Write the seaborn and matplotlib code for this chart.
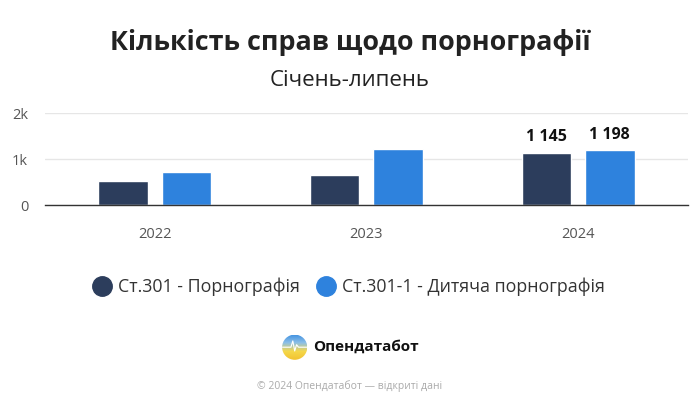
import numpy as np
import pandas as pd
import seaborn as sns
import matplotlib.pyplot as plt
from matplotlib.lines import Line2D
from matplotlib.patches import Circle

# Data
years = ["2022", "2023", "2024"]
art_301 = [520, 665, 1145]
art_301_1 = [725, 1225, 1198]
series_names = ["Ст.301 - Порнографія", "Ст.301-1 - Дитяча порнографія"]
colors = ["#2c3d5c", "#2e82dd"]

df = pd.DataFrame({
    "year": years * 2,
    "value": art_301 + art_301_1,
    "series": [series_names[0]] * 3 + [series_names[1]] * 3,
})

sns.set_theme(style="white")
plt.rcParams["font.family"] = ["Open Sans", "DejaVu Sans"]

fig = plt.figure(figsize=(7, 4.08), dpi=100)
ax = fig.add_axes([0.064, 0.4975, 0.919, 0.2245])

sns.barplot(data=df, x="year", y="value", hue="series", palette=colors,
            width=0.6, gap=0.22, saturation=1, ax=ax, legend=False)

ax.set_xlim(-0.52, 2.52)
ax.set_ylim(0, 2000)
ax.set_yticks([0, 1000, 2000])
ax.set_yticklabels(["0", "1k", "2k"])
ax.set_xlabel("")
ax.set_ylabel("")
ax.yaxis.grid(True, color="#e6e6e6", linewidth=1)
ax.set_axisbelow(True)
for s in ["top", "right", "left"]:
    ax.spines[s].set_visible(False)
ax.spines["bottom"].set_color("#333333")
ax.spines["bottom"].set_linewidth(1)
ax.tick_params(axis="both", length=0, labelsize=10.5, colors="#555555")
ax.tick_params(axis="x", pad=16)
ax.tick_params(axis="y", pad=12)

# value labels only on the last year
for cont in ax.containers:
    bar = cont.patches[-1]
    ax.text(bar.get_x() + bar.get_width() / 2, bar.get_height() + 160,
            f"{int(bar.get_height()):,}".replace(",", " "),
            ha="center", va="bottom", fontsize=11.5, fontweight="bold", color="#111111")

fig.text(0.5, 0.897, "Кількість справ щодо порнографії", ha="center", va="center",
         fontsize=19.4, fontweight="bold", color="#222222")
fig.text(0.5, 0.803, "Січень-липень", ha="center", va="center",
         fontsize=16, color="#222222")

handles = [Line2D([0], [0], marker="o", linestyle="", markersize=14,
                  markerfacecolor=c, markeredgecolor=c) for c in colors]
fig.legend(handles, series_names, loc="center", bbox_to_anchor=(0.5, 0.297),
           ncol=2, frameon=False, fontsize=12.8, handletextpad=0.5,
           handlelength=0.8, columnspacing=1.1, labelcolor="#333333")

# logo
lax = fig.add_axes([0.403, 0.118, 0.036, 0.062])
grad = np.linspace(0, 1, 100)[:, None] * np.ones((1, 100))
cmap = sns.blend_palette(["#3d8fe0", "#8cbfe8", "#f5d84a", "#f2c230"], as_cmap=True)
im = lax.imshow(grad, cmap=cmap, extent=[-1, 1, -1, 1], origin="upper")
clip = Circle((0, 0), 1, transform=lax.transData)
im.set_clip_path(clip)
lax.plot([-1, -0.3, -0.15, 0, 0.15, 0.3, 1], [0, 0, 0.5, -0.3, 0.2, 0, 0],
         color="white", linewidth=0.8, clip_path=clip)
lax.set_xlim(-1, 1)
lax.set_ylim(-1, 1)
lax.axis("off")
fig.text(0.447, 0.15, "Опендатабот", ha="left", va="center",
         fontsize=11, fontweight="bold", color="#111111")

fig.text(0.5, 0.053, "© 2024 Опендатабот — відкриті дані", ha="center", va="center",
         fontsize=7.5, color="#aaaaaa")

fig.savefig("out.png", dpi=100)
plt.close(fig)
